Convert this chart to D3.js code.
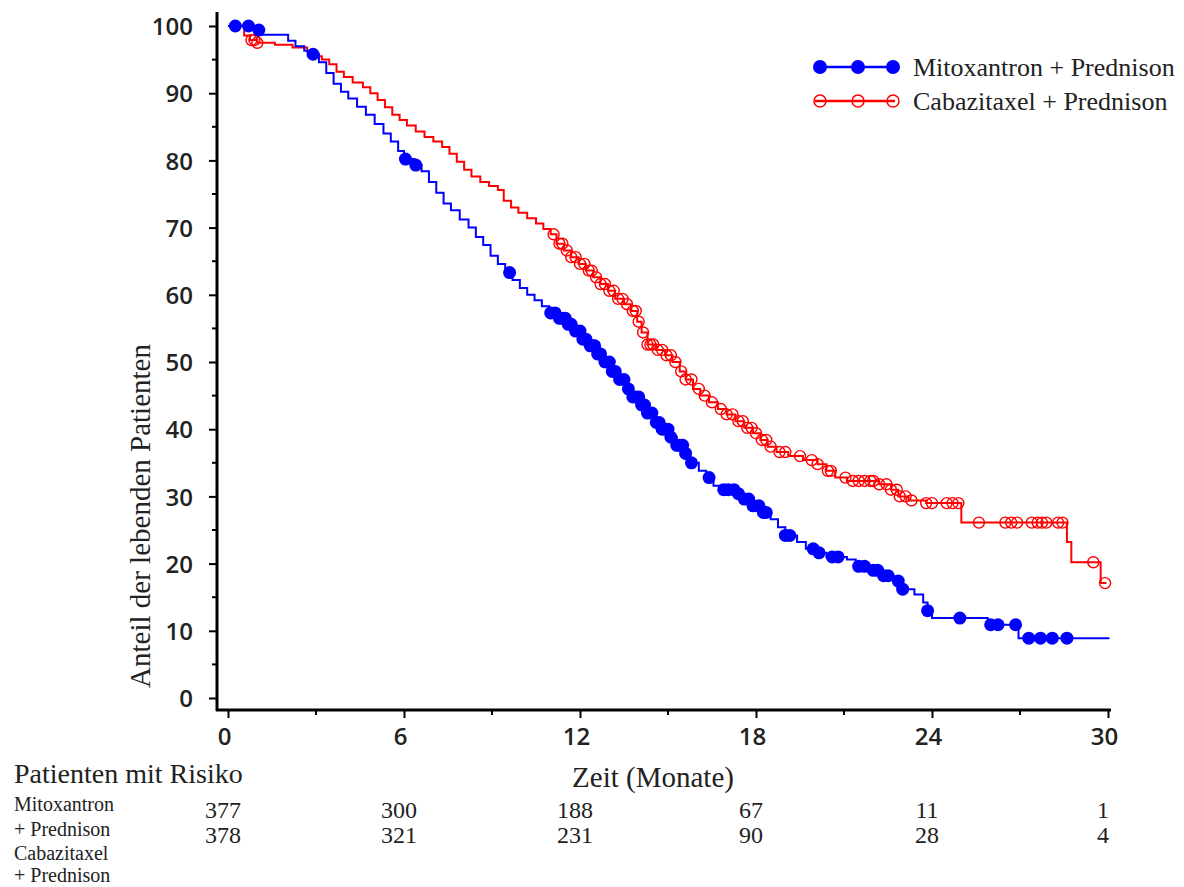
<!DOCTYPE html>
<meta charset="utf-8">
<style>
body { margin: 0; background: #fff; }
text { font-family: "Liberation Serif", "Times New Roman", serif; fill: #222; }
.tick text { font-family: "Open Sans", sans-serif; font-weight: 600; font-size: 24px; fill: #222; }
.tick line { stroke: #000; stroke-width: 2px; }
</style>
<svg width="1184" height="887"></svg>
<script src="https://d3js.org/d3.v7.min.js"></script>
<script>

// step curves: [month, percent alive]
var mitoSteps = [
  [0,100],[1.0,99.4],[1.15,98.7],[2.05,97.8],[2.3,97.0],[2.6,96.3],[2.85,95.8],[3.1,94.6],
  [3.35,93.0],[3.6,91.4],[3.85,90.2],[4.1,89.2],[4.4,88.0],[4.7,86.8],[5.0,85.4],[5.3,84.0],
  [5.55,82.8],[5.8,81.4],[6.0,80.2],[6.35,79.3],[6.6,78.4],[6.85,76.8],[7.1,75.2],[7.35,73.6],
  [7.6,72.6],[7.9,71.2],[8.2,70.0],[8.45,68.6],[8.7,67.4],[8.95,65.8],[9.2,64.6],[9.45,63.3],
  [9.7,62.2],[9.95,61.0],[10.2,60.0],[10.45,59.2],[10.7,58.3],[10.95,57.3],[11.25,56.5],
  [11.6,55.6],[11.85,54.6],[12.05,53.4],[12.3,52.4],[12.55,51.2],[12.8,50.0],[13.05,48.6],
  [13.3,47.4],[13.55,46.0],[13.8,44.8],[14.05,43.6],[14.3,42.4],[14.55,41.0],[14.8,40.0],
  [15.05,38.8],[15.3,37.6],[15.55,36.4],[15.75,35.0],[16.05,33.8],[16.3,32.8],[16.55,31.6],
  [16.9,31.0],[17.3,30.4],[17.6,29.6],[17.9,28.6],[18.15,27.6],[18.5,26.6],[18.75,25.4],
  [19.0,24.2],[19.4,23.2],[19.7,22.2],[20.0,21.6],[20.4,21.0],[21.1,20.6],[21.4,19.6],
  [21.9,19.0],[22.3,18.2],[22.7,17.4],[23.0,16.2],[23.4,15.4],[23.7,14.2],[23.85,13.0],
  [24.0,11.9],[25.9,10.9],[26.95,8.9]
];
var mitoEnd = 30.05;
var mitoCensor = [0.25,0.7,1.05,2.9,6.05,6.4,9.6,11.0,11.15,11.3,11.4,11.5,11.6,11.7,11.85,
  12.0,12.1,12.2,12.35,12.45,12.5,12.6,12.7,12.85,13.0,13.1,13.2,13.35,13.5,13.65,13.8,13.9,
  14.0,14.1,14.2,14.3,14.45,14.6,14.7,14.8,14.9,15.0,15.1,15.3,15.4,15.5,15.6,15.8,
  16.4,16.9,17.05,17.25,17.4,17.6,17.75,17.9,18.1,18.25,18.35,19.0,19.15,19.95,20.15,20.6,
  20.8,21.5,21.7,22.0,22.15,22.35,22.5,22.85,23.0,23.85,24.95,26.0,26.25,26.85,27.3,27.7,
  28.1,28.6];

var cabaSteps = [
  [0,100],[0.55,98.6],[0.75,97.9],[1.0,97.5],[1.6,97.2],[2.2,96.8],[2.7,96.2],[2.95,95.5],
  [3.2,95.0],[3.45,94.3],[3.7,93.2],[3.95,92.4],[4.25,91.6],[4.6,90.9],[4.85,90.0],[5.1,89.0],
  [5.35,87.9],[5.6,86.8],[5.85,86.0],[6.1,85.2],[6.4,84.3],[6.7,83.5],[7.0,82.8],[7.3,82.0],
  [7.55,81.0],[7.8,79.8],[8.05,78.6],[8.3,77.6],[8.6,76.8],[8.9,76.2],[9.2,75.6],[9.4,74.0],
  [9.65,73.0],[9.9,72.2],[10.2,71.4],[10.5,70.6],[10.75,69.8],[11.0,69.0],[11.2,67.6],
  [11.45,66.6],[11.7,65.6],[11.95,64.6],[12.2,63.6],[12.45,62.6],[12.7,61.6],[12.95,60.6],
  [13.2,59.4],[13.5,58.6],[13.75,57.6],[13.95,56.0],[14.1,54.4],[14.3,52.6],[14.6,51.8],
  [14.9,51.0],[15.15,50.0],[15.4,48.6],[15.6,47.4],[15.85,46.0],[16.1,45.0],[16.4,44.0],
  [16.7,43.0],[17.0,42.2],[17.3,41.2],[17.6,40.2],[17.9,39.4],[18.15,38.4],[18.4,37.4],
  [18.7,36.6],[19.1,36.0],[19.6,35.4],[20.1,34.8],[20.4,33.8],[20.7,32.8],[21.1,32.3],
  [22.2,31.8],[22.6,31.0],[22.85,30.0],[23.2,29.4],[23.8,29.0],[25.0,26.1],[28.6,23.2],
  [28.75,20.2],[29.75,17.1]
];
var cabaEnd = 29.95;
var cabaCensor = [0.8,0.9,1.0,11.1,11.3,11.4,11.55,11.7,11.85,12.0,12.15,12.3,12.4,12.55,
  12.7,12.85,13.0,13.15,13.3,13.45,13.6,13.8,13.9,14.0,14.15,14.3,14.4,14.5,14.65,14.8,14.95,
  15.1,15.25,15.45,15.6,15.8,16.05,16.25,16.5,16.8,17.0,17.2,17.4,17.55,17.7,17.85,18.0,18.2,
  18.35,18.5,18.8,19.0,19.5,19.9,20.1,20.45,20.55,21.05,21.3,21.5,21.7,21.9,22.0,22.2,22.45,
  22.6,22.8,22.9,23.1,23.3,23.8,24.0,24.5,24.7,24.9,25.6,26.5,26.7,26.9,27.4,27.6,27.75,27.9,
  28.3,28.45,29.5,29.9];

var xTicks = [0, 6, 12, 18, 24, 30];
var xMinor = [3, 9, 15, 21, 27];
var yTicks = [0, 10, 20, 30, 40, 50, 60, 70, 80, 90, 100];
var yMinor = [5, 15, 25, 35, 45, 55, 65, 75, 85, 95];

var riskMito = [377, 300, 188, 67, 11, 1];
var riskCaba = [378, 321, 231, 90, 28, 4];
var seriesNames = ["Mitoxantron + Prednison", "Cabazitaxel + Prednison"];

var svg = d3.select("svg");

var x = d3.scaleLinear().domain([0, 30]).range([228, 1108]);
var y = d3.scaleLinear().domain([0, 100]).range([698, 26]);

// y axis
var yAxisG = svg.append("g").attr("transform", "translate(217,0)");
yAxisG.call(d3.axisLeft(y).tickValues(yTicks).tickSize(8).tickPadding(16));
yAxisG.selectAll(".tick text").attr("dy", "0.36em");
yAxisG.select(".domain").remove();
yAxisG.selectAll(".minor").data(yMinor).enter().append("line")
  .attr("x1", -5).attr("x2", 0)
  .attr("y1", function(d) { return y(d); }).attr("y2", function(d) { return y(d); })
  .attr("stroke", "#000").attr("stroke-width", 2);
yAxisG.append("line").attr("x1", 0).attr("x2", 0).attr("y1", 12).attr("y2", 711)
  .attr("stroke", "#000").attr("stroke-width", 3);

// x axis
var xAxisG = svg.append("g").attr("transform", "translate(0,710)");
xAxisG.call(d3.axisBottom(x).tickValues(xTicks).tickSize(8).tickPadding(10));
xAxisG.selectAll(".tick text").attr("x", -4);
xAxisG.select(".domain").remove();
xAxisG.selectAll(".minor").data(xMinor).enter().append("line")
  .attr("y1", 0).attr("y2", 5)
  .attr("x1", function(d) { return x(d); }).attr("x2", function(d) { return x(d); })
  .attr("stroke", "#000").attr("stroke-width", 2);
xAxisG.append("line").attr("x1", 216).attr("x2", 1111).attr("y1", 0).attr("y2", 0)
  .attr("stroke", "#000").attr("stroke-width", 3);

// survival curves
var line = d3.line()
  .x(function(d) { return x(d[0]); })
  .y(function(d) { return y(d[1]); })
  .curve(d3.curveStepAfter);

function survAt(steps, t) {
  var v = steps[0][1];
  steps.forEach(function(s) { if (s[0] <= t) v = s[1]; });
  return v;
}

function drawCurve(steps, endT, censor, color, filled) {
  var pts = steps.concat([[endT, steps[steps.length - 1][1]]]);
  svg.append("path").datum(pts)
    .attr("d", line)
    .attr("fill", "none")
    .attr("stroke", color)
    .attr("stroke-width", 2);
  svg.append("g").selectAll("circle").data(censor).enter().append("circle")
    .attr("cx", function(d) { return x(d); })
    .attr("cy", function(d) { return y(survAt(steps, d)); })
    .attr("r", filled ? 6.5 : 5.5)
    .attr("fill", filled ? color : "none")
    .attr("stroke", color)
    .attr("stroke-width", filled ? 0 : 1.4);
}

drawCurve(cabaSteps, cabaEnd, cabaCensor, "#ff0000", false);
drawCurve(mitoSteps, mitoEnd, mitoCensor, "#0000ff", true);

// legend
var legend = [
  {name: seriesNames[0], color: "#0000ff", filled: true, yy: 67},
  {name: seriesNames[1], color: "#ff0000", filled: false, yy: 101}
];
legend.forEach(function(l) {
  svg.append("line").attr("x1", 815).attr("x2", 895).attr("y1", l.yy).attr("y2", l.yy)
    .attr("stroke", l.color).attr("stroke-width", 2.5);
  [820, 858, 893].forEach(function(cx) {
    svg.append("circle").attr("cx", cx).attr("cy", l.yy).attr("r", l.filled ? 7 : 6)
      .attr("fill", l.filled ? l.color : "none")
      .attr("stroke", l.color).attr("stroke-width", l.filled ? 0 : 1.5);
  });
  svg.append("text").attr("x", 913).attr("y", l.yy + 9)
    .style("font-size", "26px").text(l.name);
});

// axis titles
svg.append("text")
  .attr("transform", "translate(150,516) rotate(-90)")
  .attr("text-anchor", "middle")
  .style("font-size", "29px")
  .text("Anteil der lebenden Patienten");

svg.append("text").attr("x", 653).attr("y", 787).attr("text-anchor", "middle")
  .style("font-size", "29px").text("Zeit (Monate)");

// risk table
svg.append("text").attr("x", 14).attr("y", 783)
  .style("font-size", "28px").text("Patienten mit Risiko");

[["Mitoxantron", 811], ["+ Prednison", 836], ["Cabazitaxel", 860], ["+ Prednison", 882]]
  .forEach(function(r) {
    svg.append("text").attr("x", 14).attr("y", r[1])
      .style("font-size", "20px").text(r[0]);
  });

svg.append("g").selectAll("text").data(riskMito).enter().append("text")
  .attr("x", function(d, i) { return x(xTicks[i]) - 5; })
  .attr("y", 818).attr("text-anchor", "middle")
  .style("font-size", "24px").text(function(d) { return d; });

svg.append("g").selectAll("text").data(riskCaba).enter().append("text")
  .attr("x", function(d, i) { return x(xTicks[i]) - 5; })
  .attr("y", 843).attr("text-anchor", "middle")
  .style("font-size", "24px").text(function(d) { return d; });

</script>
